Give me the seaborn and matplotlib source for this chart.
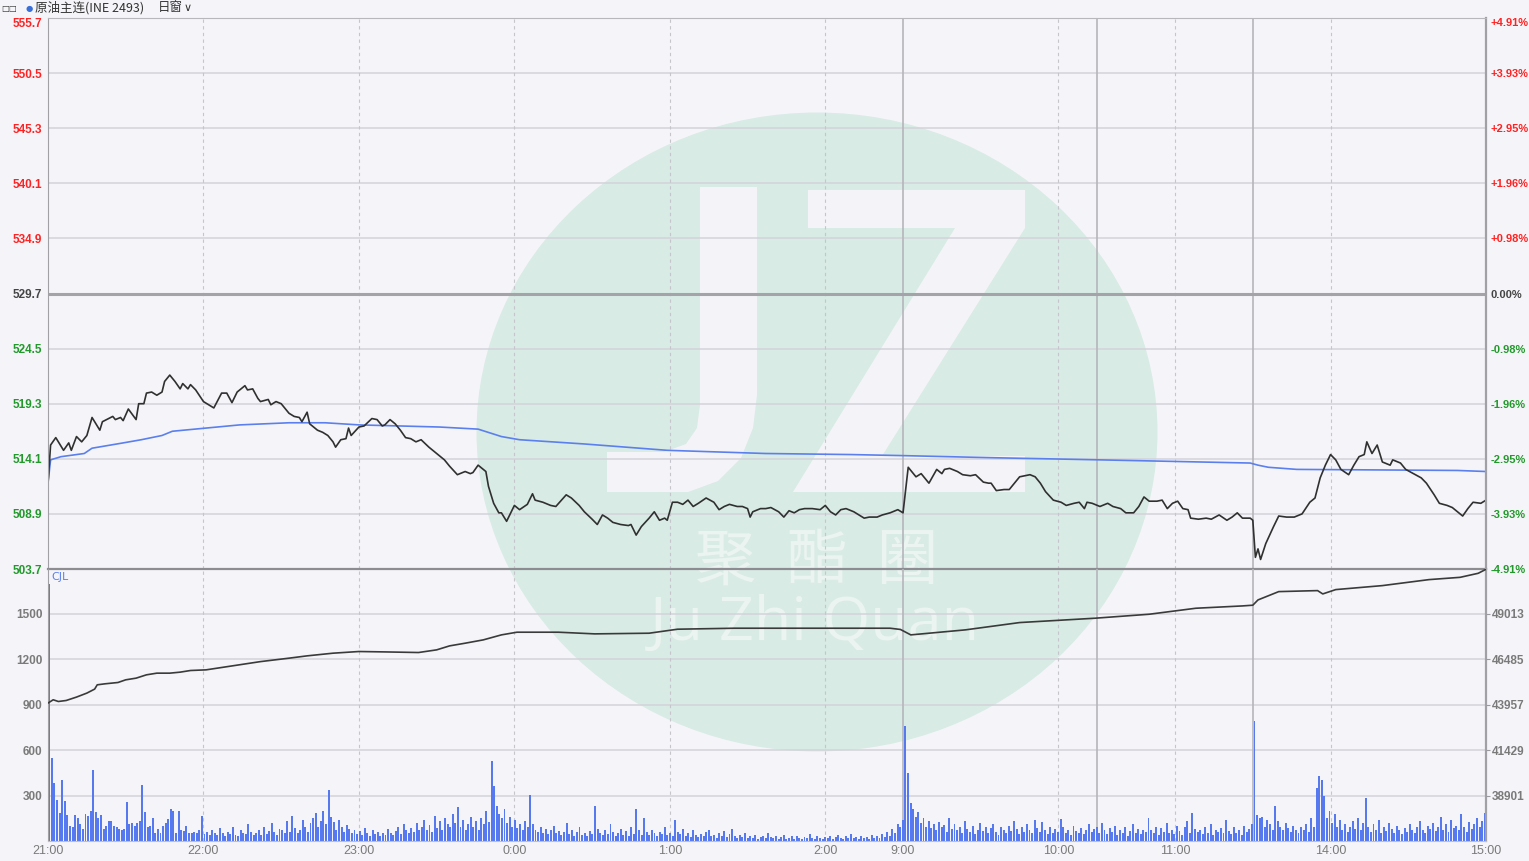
import numpy as np
import pandas as pd
import seaborn as sns
import matplotlib
matplotlib.use("Agg")
import matplotlib.pyplot as plt
from matplotlib.patches import Ellipse, Polygon

# ============================================================
# DATA (time = trading minutes after 21:00)
# ============================================================
prev_close = 529.7
price_step = 5.2

price_min = [0, 1, 3, 6, 8, 9, 11, 13, 15, 17, 20, 21, 25, 26, 28, 29, 31, 34, 35, 37,
             38, 40, 42, 44, 45, 47, 49, 51, 52, 54, 55, 57, 60, 62, 64, 67, 69, 71, 73, 76,
             77, 79, 81, 82, 85, 86, 88, 90, 93, 95, 97, 98, 100, 101, 104, 106, 108, 110, 111, 113,
             115, 116, 117, 120, 122, 125, 127, 129, 130, 132, 134, 136, 138, 140, 142, 144, 147, 149, 153, 155,
             158, 161, 163, 164, 166, 169, 170, 172, 174, 175, 177, 180, 182, 185, 187, 188, 191, 194, 196, 200,
             202, 205, 207, 210, 212, 214, 216, 218, 221, 224, 225, 227, 229, 232, 234, 236, 238, 239, 241, 243,
             245, 247, 249, 251, 254, 257, 259, 261, 263, 266, 268, 270, 271, 272, 275, 277, 279, 282, 284, 286,
             288, 290, 292, 295, 298, 300, 302, 304, 306, 308, 311, 313, 315, 317, 320, 322, 325, 328, 330, 332,
             335, 337, 340, 343, 345, 346, 348, 351, 353, 356, 358, 361, 363, 364, 366, 369, 371, 375, 379, 381,
             383, 385, 388, 391, 393, 396, 398, 400, 401, 403, 406, 409, 411, 414, 416, 419, 421, 423, 425, 428,
             430, 432, 434, 436, 438, 440, 441, 444, 447, 449, 452, 455, 457, 459, 461, 464, 465, 466, 467, 468,
             470, 473, 475, 478, 481, 484, 487, 489, 491, 493, 495, 497, 499, 502, 504, 506, 508, 509, 511, 513,
             515, 518, 519, 522, 524, 527, 530, 532, 535, 537, 540, 542, 546, 548, 550, 553, 555]
price_val = [511.8, 515.4, 516.1, 514.9, 515.6, 514.9, 516.2, 515.7, 516.3, 518.0, 516.8, 517.6, 518.1, 517.8, 518.0, 517.7, 518.8, 517.8, 519.3, 519.3,
             520.3, 520.4, 520.1, 520.4, 521.4, 522.0, 521.4, 520.7, 521.2, 520.7, 521.1, 520.6, 519.5, 519.2, 518.9, 520.3, 520.3, 519.4, 520.4, 521.0,
             520.6, 520.7, 519.8, 519.5, 519.7, 519.2, 519.5, 519.3, 518.4, 518.1, 518.0, 517.6, 518.5, 517.4, 516.8, 516.6, 516.3, 515.7, 515.2, 515.9,
             516.0, 517.0, 516.3, 517.1, 517.2, 517.9, 517.8, 517.2, 517.3, 517.8, 517.4, 516.8, 516.1, 516.0, 515.7, 515.9, 515.2, 514.8, 514.0, 513.4,
             512.6, 512.9, 512.7, 512.8, 513.5, 512.9, 511.5, 509.9, 509.0, 509.0, 508.2, 509.7, 509.3, 509.8, 510.8, 510.2, 510.0, 509.7, 509.6, 510.7,
             510.4, 509.7, 509.1, 508.4, 507.9, 508.8, 508.5, 508.1, 507.9, 507.8, 507.9, 506.9, 507.7, 508.5, 509.1, 508.3, 508.5, 508.3, 510.0, 510.0,
             509.8, 510.2, 509.6, 509.9, 510.4, 510.0, 509.3, 509.6, 509.8, 509.6, 509.6, 509.4, 508.6, 509.1, 509.4, 509.4, 509.5, 509.1, 508.6, 509.2,
             509.0, 509.3, 509.4, 509.4, 509.3, 509.7, 509.1, 508.8, 509.3, 509.4, 509.1, 508.8, 508.5, 508.6, 508.6, 508.8, 509.0, 509.3, 509.0, 513.3,
             512.4, 512.7, 511.8, 513.1, 512.7, 513.1, 513.2, 512.9, 512.6, 512.5, 512.6, 511.9, 511.8, 511.8, 511.1, 511.2, 511.2, 512.4, 512.6, 512.4,
             511.8, 511.0, 510.2, 510.0, 509.7, 509.9, 510.0, 509.4, 510.0, 509.9, 509.6, 509.9, 509.6, 509.4, 509.0, 509.0, 509.6, 510.5, 510.1, 510.1,
             510.2, 509.4, 509.9, 510.1, 509.4, 509.3, 508.5, 508.4, 508.5, 508.4, 508.8, 508.3, 508.6, 509.0, 508.5, 508.5, 508.3, 504.8, 505.6, 504.6,
             506.1, 507.7, 508.7, 508.6, 508.6, 508.9, 510.0, 510.4, 512.3, 513.5, 514.5, 514.0, 513.1, 512.6, 513.5, 514.3, 514.5, 515.7, 514.6, 515.4,
             513.8, 513.5, 514.0, 513.7, 513.1, 512.7, 512.3, 511.8, 510.7, 509.9, 509.7, 509.5, 508.7, 509.4, 510.0, 509.9, 510.2]

avg_min = [0, 1, 5, 14, 17, 29, 36, 44, 48, 61, 74, 93, 107, 120, 151, 166, 175, 182,
           207, 239, 277, 310, 330, 365, 406, 464, 467, 471, 482, 544, 555]
avg_val = [511.8, 514.0, 514.3, 514.6, 515.1, 515.6, 515.9, 516.3, 516.7, 517.0, 517.3, 517.5, 517.5, 517.3, 517.1, 516.9, 516.2, 515.9,
           515.5, 514.9, 514.6, 514.5, 514.4, 514.2, 514.0, 513.7, 513.5, 513.3, 513.1, 513.0, 512.9]

oi_min = [0, 2, 4, 7, 11, 15, 18, 19, 22, 27, 30, 34, 38, 42, 47, 51, 55, 61, 82, 93,
          100, 110, 120, 130, 143, 150, 155, 161, 168, 175, 181, 197, 211, 232, 243, 265, 300, 325, 329, 333,
          354, 375, 404, 425, 443, 461, 465, 467, 475, 490, 492, 497, 515, 533, 545, 552, 555]
oi_val = [44051, 44235, 44140, 44195, 44385, 44607, 44829, 45068, 45124, 45197, 45346, 45439, 45624, 45717, 45717, 45773, 45865, 45901, 46360, 46551,
          46680, 46829, 46922, 46900, 46866, 47014, 47236, 47385, 47570, 47848, 47997, 47997, 47904, 47941, 48164, 48219, 48219, 48219, 48150, 47848,
          48126, 48534, 48775, 48997, 49331, 49460, 49500, 49794, 50257, 50313, 50128, 50369, 50591, 50925, 51052, 51277, 51500]

volume = [1700, 549, 384, 270, 188, 405, 265, 170, 100, 95, 170, 155, 110, 80, 180, 165, 200, 467, 190, 150,
          175, 80, 100, 130, 135, 100, 90, 80, 75, 80, 256, 110, 120, 100, 120, 130, 372, 190, 90, 100,
          150, 55, 80, 55, 100, 120, 145, 210, 200, 55, 195, 75, 65, 100, 55, 50, 60, 50, 70, 164,
          45, 60, 38, 72, 50, 40, 85, 55, 30, 62, 48, 95, 40, 35, 70, 52, 44, 110, 60, 38,
          55, 75, 40, 92, 48, 66, 120, 58, 42, 80, 70, 54, 135, 62, 166, 88, 50, 72, 140, 95,
          60, 118, 150, 185, 92, 130, 200, 110, 340, 160, 125, 75, 140, 95, 60, 105, 80, 55, 70, 48,
          65, 40, 88, 52, 35, 70, 45, 60, 30, 55, 42, 78, 50, 38, 64, 90, 48, 110, 70, 55,
          85, 60, 120, 75, 95, 140, 70, 105, 60, 163, 88, 130, 72, 150, 110, 95, 180, 120, 225, 90,
          140, 75, 115, 160, 95, 130, 70, 150, 110, 200, 125, 531, 366, 230, 180, 150, 210, 120, 160, 90,
          140, 85, 110, 70, 130, 95, 302, 110, 75, 60, 95, 55, 80, 45, 70, 100, 50, 65, 40, 58,
          122, 48, 75, 35, 60, 90, 42, 55, 30, 68, 45, 234, 80, 52, 38, 70, 45, 110, 60, 35,
          55, 80, 40, 65, 30, 95, 48, 212, 70, 42, 150, 60, 38, 75, 50, 30, 62, 45, 90, 40,
          55, 35, 137, 60, 45, 80, 30, 52, 25, 70, 40, 28, 48, 35, 60, 75, 30, 42, 22, 50,
          35, 65, 28, 45, 80, 30, 20, 38, 25, 50, 18, 32, 22, 40, 15, 28, 35, 20, 55, 25,
          18, 30, 15, 25, 40, 12, 22, 30, 16, 35, 20, 14, 28, 18, 45, 22, 15, 30, 20, 12,
          25, 18, 35, 15, 28, 40, 20, 14, 30, 22, 48, 18, 25, 15, 32, 20, 28, 12, 38, 22,
          30, 18, 45, 25, 60, 35, 80, 50, 110, 90, 140, 761, 450, 250, 210, 160, 190, 120, 150, 95,
          130, 85, 110, 70, 125, 90, 105, 60, 153, 80, 115, 70, 95, 55, 130, 80, 60, 100, 45, 75,
          120, 65, 90, 50, 85, 110, 60, 40, 95, 70, 55, 100, 65, 130, 80, 45, 90, 60, 115, 70,
          50, 140, 85, 60, 125, 75, 45, 95, 55, 80, 60, 146, 90, 55, 75, 40, 100, 65, 50, 85,
          45, 70, 110, 60, 80, 95, 55, 120, 70, 45, 85, 60, 100, 40, 75, 55, 90, 35, 65, 110,
          50, 80, 45, 70, 60, 153, 75, 50, 95, 40, 85, 60, 120, 55, 70, 45, 100, 65, 40, 90,
          130, 55, 186, 80, 60, 70, 45, 95, 55, 110, 40, 75, 60, 85, 50, 140, 65, 45, 90, 55,
          75, 40, 100, 60, 80, 110, 794, 175, 150, 160, 90, 140, 110, 75, 234, 130, 95, 70, 120, 85,
          60, 100, 75, 55, 90, 70, 110, 60, 150, 95, 350, 427, 405, 295, 150, 200, 120, 180, 90, 140,
          75, 110, 60, 95, 130, 80, 150, 70, 120, 285, 95, 60, 110, 75, 140, 55, 90, 65, 120, 80,
          50, 100, 70, 45, 85, 60, 110, 75, 50, 95, 130, 70, 55, 100, 80, 120, 65, 90, 158, 75,
          110, 60, 140, 85, 100, 70, 180, 95, 60, 125, 80, 110, 150, 90, 130, 185]

time_ticks = [0, 60, 120, 180, 240, 300, 330, 390, 435, 495, 555]
time_labels = ["21:00", "22:00", "23:00", "0:00", "1:00", "2:00", "9:00", "10:00", "11:00", "14:00", "15:00"]
session_breaks = [330, 405, 465]
vol_ticks = [300, 600, 900, 1200, 1500]
oi_ticks = [38901, 41429, 43957, 46485, 49013]

# ============================================================
# STYLE
# ============================================================
BG = "#f5f5f9"
GRID = "#d3d3d9"
BLUE = "#5b80ee"
BAR = "#5679f0"
RED = "#ff2222"
GREEN = "#21992b"
TICKFONT = ["Liberation Sans", "DejaVu Sans"]

sns.set_style("white")
plt.rcParams["font.family"] = ["DejaVu Sans", "Noto Sans CJK SC"]

W, H = 1529, 861
fig = plt.figure(figsize=(W / 100, H / 100), dpi=100, facecolor=BG)


def fx(x):
    return x / W


def fy(y):
    return 1 - y / H


ax = fig.add_axes([fx(48), fy(569), fx(1486) - fx(48), fy(18) - fy(569)])
axv = fig.add_axes([fx(48), fy(841), fx(1486) - fx(48), fy(569) - fy(841)])
for a in (ax, axv):
    a.set_facecolor("none")

# ---- watermark (behind everything) ----
circle = Ellipse((fx(817), fy(432)), fx(681), 639 / H, transform=fig.transFigure,
                 facecolor="#d9ebe5", edgecolor="none", zorder=-2)
fig.add_artist(circle)
j_pts = [(700, 187), (757, 187), (757, 395), (753, 428), (741, 458), (718, 481), (688, 492),
         (607, 492), (607, 452), (664, 452), (686, 444), (697, 428), (700, 405)]
z_pts = [(808, 190), (1025, 190), (1025, 228), (882, 456), (1025, 456), (1025, 492),
         (793, 492), (955, 228), (808, 228)]
for pts in (j_pts, z_pts):
    poly = Polygon([(fx(x), fy(y)) for x, y in pts], closed=True, transform=fig.transFigure,
                   facecolor="#f4f4f8", edgecolor="none", zorder=-1)
    fig.add_artist(poly)
for ch, cx in zip(["聚", "酯", "圈"], [726, 817, 908]):
    fig.text(fx(cx), fy(562), ch, ha="center", va="center", fontsize=44,
             family=["Noto Sans CJK SC"], color="#ebf4f1", zorder=-1)
fig.text(fx(815), fy(624), "Ju Zhi Quan", ha="center", va="center", fontsize=44,
         family=["Open Sans", "DejaVu Sans"], color="#ebf4f1", zorder=-1)

# ============================================================
# PRICE PANEL
# ============================================================
levels = [prev_close + price_step * k for k in range(-5, 6)]
ax.set_ylim(levels[0], levels[-1])
for lv in levels[1:-1]:
    ax.axhline(lv, color=GRID, lw=1.1, zorder=0.5)
ax.axhline(prev_close, color="#a3a3a8", lw=2.2, zorder=0.6)

for t in time_ticks[1:-1]:
    if t in session_breaks:
        ax.axvline(t, color="#b5b5ba", lw=1.2, zorder=0.5)
    else:
        ax.axvline(t, color="#c5c5cb", lw=0.8, ls=(0, (3, 3)), zorder=0.5)
for t in session_breaks:
    if t not in time_ticks:
        ax.axvline(t, color="#b5b5ba", lw=1.2, zorder=0.5)

price_df = pd.DataFrame({"t": price_min, "price": price_val})
avg_df = pd.DataFrame({"t": avg_min, "avg": avg_val})
sns.lineplot(data=avg_df, x="t", y="avg", ax=ax, color=BLUE, lw=1.2, estimator=None)
sns.lineplot(data=price_df, x="t", y="price", ax=ax, color="#303030", lw=1.2, estimator=None)

ax.set_xlabel("")
ax.set_ylabel("")
ax.set_xticks([])
ax.set_yticks(levels)
ax.set_yticklabels([f"{v:.1f}" for v in levels])
ax.tick_params(axis="y", length=0, pad=4, labelsize=8.5)


def level_color(v):
    if abs(v - prev_close) < 1e-6:
        return "#444444"
    return RED if v > prev_close else GREEN


for lab, v in zip(ax.get_yticklabels(), levels):
    lab.set_color(level_color(v))
    lab.set_fontweight("bold")
    lab.set_family(TICKFONT)
ax.get_yticklabels()[-1].set_verticalalignment("top")

axr = ax.twinx()
axr.set_ylim(ax.get_ylim())
axr.set_yticks(levels)
pct_labels = []
for v in levels:
    p = (v - prev_close) / prev_close * 100
    pct_labels.append("0.00%" if abs(p) < 1e-6 else f"{p:+.2f}%")
axr.set_yticklabels(pct_labels)
axr.tick_params(axis="y", length=0, pad=3, labelsize=8)
for lab, v in zip(axr.get_yticklabels(), levels):
    lab.set_color(level_color(v))
    lab.set_fontweight("bold")
    lab.set_family(TICKFONT)
axr.get_yticklabels()[-1].set_verticalalignment("top")

for s in axr.spines.values():
    s.set_visible(False)
ax.spines["left"].set_color("#a0a0a5")
ax.spines["right"].set_color("#a0a0a5")
ax.spines["right"].set_linewidth(1.6)
ax.spines["top"].set_color("#b8b8bc")
ax.spines["bottom"].set_color("#8c8c91")
ax.spines["bottom"].set_linewidth(1.6)

# ============================================================
# VOLUME / OPEN INTEREST PANEL
# ============================================================
vol_top = 1797
oi_per_vol = (oi_ticks[1] - oi_ticks[0]) / (vol_ticks[1] - vol_ticks[0])
oi_bottom = oi_ticks[0] - vol_ticks[0] * oi_per_vol

for lv in vol_ticks:
    axv.axhline(lv, color=GRID, lw=1.1, zorder=0.5)
for t in time_ticks[1:-1]:
    if t in session_breaks:
        axv.axvline(t, color="#b5b5ba", lw=1.2, zorder=0.5)
    else:
        axv.axvline(t, color="#c5c5cb", lw=0.8, ls=(0, (3, 3)), zorder=0.5)
for t in session_breaks:
    if t not in time_ticks:
        axv.axvline(t, color="#b5b5ba", lw=1.2, zorder=0.5)

# one bar per minute slot, spread evenly over the session so the end bars stay inside
n_bars = len(volume)
vol_x = (np.arange(n_bars) + 0.5) * time_ticks[-1] / n_bars
sns.barplot(x=vol_x, y=volume, native_scale=True, orient="x", ax=axv, color=BAR,
            width=0.75, saturation=1, errorbar=None, linewidth=0)

axo = axv.twinx()
oi_df = pd.DataFrame({"t": oi_min, "oi": oi_val})
sns.lineplot(data=oi_df, x="t", y="oi", ax=axo, color="#3a3a3a", lw=1.2, estimator=None)
axo.set_ylim(oi_bottom, oi_bottom + vol_top * oi_per_vol)
axo.set_ylabel("")
axo.set_yticks(oi_ticks)
axo.set_yticklabels([str(v) for v in oi_ticks])
axo.tick_params(axis="y", length=3, width=0.8, color="#9a9a9f", pad=1, labelsize=8.5,
                labelcolor="#7a7a7a")
for lab in axo.get_yticklabels():
    lab.set_fontweight("bold")
    lab.set_family(TICKFONT)
for s in axo.spines.values():
    s.set_visible(False)

axv.set_ylim(0, vol_top)
axv.set_ylabel("")
axv.set_xlabel("")
axv.set_yticks(vol_ticks)
axv.set_yticklabels([str(v) for v in vol_ticks])
axv.tick_params(axis="y", length=0, pad=4, labelsize=8.5, labelcolor="#7a7a7a")
for lab in axv.get_yticklabels():
    lab.set_fontweight("bold")
    lab.set_family(TICKFONT)
axv.set_xticks(time_ticks)
axv.set_xticklabels(time_labels)
axv.tick_params(axis="x", length=0, pad=3, labelsize=9, labelcolor="#7a7a7a")
for lab in axv.get_xticklabels():
    lab.set_family(TICKFONT)
axv.set_xlim(0, 555)
ax.set_xlim(0, 555)

axv.spines["left"].set_color("#a0a0a5")
axv.spines["right"].set_color("#a0a0a5")
axv.spines["right"].set_linewidth(1.6)
axv.spines["top"].set_visible(False)
axv.spines["bottom"].set_color("#c0c0c5")

axv.text(0.002, 0.99, "CJL", transform=axv.transAxes, va="top", ha="left",
         fontsize=8, color=BLUE)

# ---- header ----
fig.text(fx(1), fy(8), "□□", fontsize=6, color="#333333", va="center", ha="left")
fig.text(fx(26), fy(8), "●", fontsize=6, color="#3a6fd8", va="center", ha="left")
fig.text(fx(35), fy(8), "原油主连(INE 2493)", fontsize=9, color="#333333", va="center",
         ha="left", family=["Noto Sans CJK SC", "DejaVu Sans"])
fig.text(fx(158), fy(8), "日窗", fontsize=9, color="#333333", va="center", ha="left",
         family=["Noto Sans CJK SC", "DejaVu Sans"])
fig.text(fx(184), fy(8), "∨", fontsize=8, color="#333333", va="center", ha="left")

fig.savefig("out.png", dpi=100, facecolor=BG)
